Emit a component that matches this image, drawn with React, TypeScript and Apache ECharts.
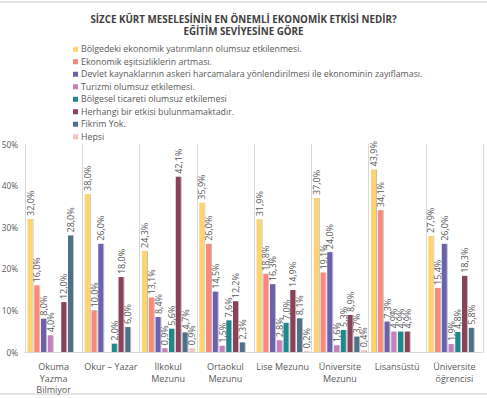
import React, { useEffect, useRef } from "react";
import * as echarts from "echarts";

const categories = [
  "Okuma\nYazma\nBilmiyor",
  "Okur – Yazar",
  "İlkokul\nMezunu",
  "Ortaokul\nMezunu",
  "Lise Mezunu",
  "Üniversite\nMezunu",
  "Lisansüstü",
  "Üniversite\nöğrencisi",
];

const seriesNames = [
  "Bölgedeki ekonomik yatırımların olumsuz etkilenmesi.",
  "Ekonomik eşitsizliklerin artması.",
  "Devlet kaynaklarının askeri harcamalara yönlendirilmesi ile ekonominin zayıflaması.",
  "Turizmi olumsuz etkilemesi.",
  "Bölgesel ticareti olumsuz etkilemesi",
  "Herhangi bir etkisi bulunmamaktadır.",
  "Fikrim Yok.",
  "Hepsi",
];

const colors = ["#FFD46F", "#F98A7A", "#6A62AC", "#C57FBD", "#1F8A8C", "#8A435A", "#4E7189", "#F8C3BC"];

const yatirim = [32.0, 38.0, 24.3, 35.9, 31.9, 37.0, 43.9, 27.9];
const esitsizlik = [16.0, 10.0, 13.1, 26.0, 18.8, 19.1, 34.1, 15.4];
const askeri = [8.0, 26.0, 8.4, 14.5, 16.3, 24.0, 7.3, 26.0];
const turizm = [4.0, null, 0.9, 1.5, 2.8, 1.6, 4.9, 1.9];
const ticaret = [null, 2.0, 5.6, 7.6, 7.0, 5.3, 4.9, 4.8];
const etkisiYok = [12.0, 18.0, 42.1, 12.2, 14.9, 8.9, 4.9, 18.3];
const fikrimYok = [28.0, 6.0, 4.7, 2.3, 8.1, 3.7, null, 5.8];
const hepsi = [null, null, 0.9, null, 0.2, 0.4, null, null];

const seriesValues = [yatirim, esitsizlik, askeri, turizm, ticaret, etkisiYok, fikrimYok, hepsi];

const yTickLabels = ["0%", "10%", "20%", "30%", "40%", "50%"];

const FONT = "Open Sans";
const GRAY = "#595959";

export default function App() {
  const ref = useRef<HTMLDivElement>(null);
  useEffect(() => {
    const chart = echarts.init(ref.current!, null, { renderer: "svg" });
    chart.setOption({
      animation: false,
      textStyle: { fontFamily: FONT },
      title: {
        text: "SİZCE KÜRT MESELESİNİN EN ÖNEMLİ EKONOMİK ETKİSİ NEDİR?\nEĞİTİM SEVİYESİNE GÖRE",
        left: "center",
        top: 8,
        textStyle: { fontFamily: FONT, fontSize: 9.8, fontWeight: "bold", color: "#404040", lineHeight: 12.5 },
      },
      legend: {
        orient: "vertical",
        left: 68,
        top: 39,
        itemWidth: 5,
        itemHeight: 5,
        itemGap: 2,
        icon: "rect",
        data: seriesNames,
        textStyle: { fontFamily: FONT, fontSize: 8.8, color: GRAY, lineHeight: 10.5, padding: [0, 0, 0, -2] },
      },
      grid: { left: 25, right: 4, top: 144, bottom: 46, containLabel: false, outerBoundsMode: "none" },
      xAxis: {
        type: "category",
        data: categories,
        axisLine: { show: true, lineStyle: { color: "#d9d9d9" } },
        axisTick: { show: false },
        splitLine: { show: true, lineStyle: { color: "#d9d9d9" } },
        axisLabel: { fontFamily: FONT, fontSize: 9, color: GRAY, lineHeight: 11.5, margin: 9, interval: 0 },
      },
      yAxis: {
        type: "value",
        min: 0,
        max: 50,
        interval: 10,
        axisLine: { show: false },
        axisTick: { show: false },
        splitLine: { show: false },
        axisLabel: {
          fontFamily: FONT,
          fontSize: 8.3,
          color: GRAY,
          margin: 7,
          formatter: (v: number) => yTickLabels[Math.round(v / 10)],
        },
      },
      graphic: [
        { type: "rect", shape: { x: 0, y: 1, width: 487, height: 2 }, style: { fill: "#e3e3e3" } },
        { type: "rect", shape: { x: 0, y: 393, width: 487, height: 2 }, style: { fill: "#e3e3e3" } },
      ],
      series: seriesNames.map((name, i) => ({
        name,
        type: "bar",
        data: seriesValues[i],
        barWidth: 5,
        barGap: "35%",
        itemStyle: {
          color: colors[i],
          shadowColor: "rgba(0,0,0,0.25)",
          shadowOffsetX: 1,
          shadowOffsetY: 0,
          shadowBlur: 1,
        },
        label: {
          show: true,
          position: "top",
          rotate: 90,
          align: "left",
          verticalAlign: "middle",
          distance: 3,
          fontFamily: FONT,
          fontSize: 9,
          color: GRAY,
          formatter: (p: any) => (p.value == null ? "" : Number(p.value).toFixed(1).replace(".", ",") + "%"),
        },
      })),
    });
    return () => chart.dispose();
  }, []);
  return <div ref={ref} style={{ width: 487, height: 398, position: "absolute", left: 0, top: 0 }} />;
}
